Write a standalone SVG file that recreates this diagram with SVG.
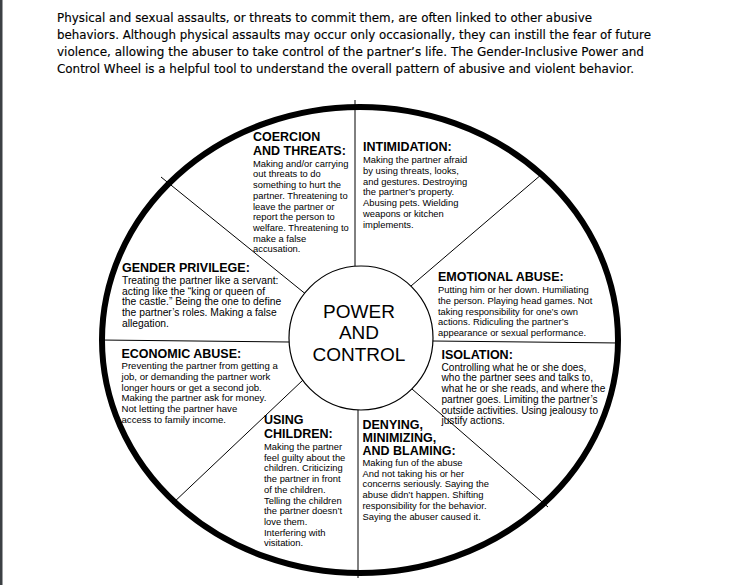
<svg xmlns="http://www.w3.org/2000/svg" width="735" height="585" viewBox="0 0 735 585">
<style>
.intro{font-family:"DejaVu Sans","Liberation Sans",sans-serif;font-size:12.5px;fill:#000;stroke:#000;stroke-width:0.15}
.t{font-family:"Liberation Sans",Arial,sans-serif;font-weight:bold;font-size:12.5px;fill:#000}
.b{font-family:"Liberation Sans",Arial,sans-serif;font-size:9.4px;fill:#000}
.bl{font-family:"Liberation Sans",Arial,sans-serif;font-size:10.3px;fill:#000}
.bi{font-family:"Liberation Sans",Arial,sans-serif;font-size:10.1px;fill:#000}
.be{font-family:"Liberation Sans",Arial,sans-serif;font-size:9.6px;fill:#000}
.c{font-family:"Liberation Sans",Arial,sans-serif;font-size:19px;fill:#000;text-anchor:middle}
.div{stroke:#000;stroke-width:1;fill:none}
</style>
<rect x="0" y="0" width="735" height="585" fill="#fff"/>
<rect x="0" y="0" width="2.5" height="585" fill="#3c4044"/>
<g id="intro">
<text class="intro" x="57" y="22" textLength="535" lengthAdjust="spacingAndGlyphs">Physical and sexual assaults, or threats to commit them, are often linked to other abusive</text>
<text class="intro" x="57" y="39" textLength="594" lengthAdjust="spacingAndGlyphs">behaviors. Although physical assaults may occur only occasionally, they can instill the fear of future</text>
<text class="intro" x="57" y="56" textLength="587" lengthAdjust="spacingAndGlyphs">violence, allowing the abuser to take control of the partner’s life. The Gender-Inclusive Power and</text>
<text class="intro" x="57" y="73" textLength="577" lengthAdjust="spacingAndGlyphs">Control Wheel is a helpful tool to understand the overall pattern of abusive and violent behavior.</text>
</g>
<g id="connectors">
<line class="div" x1="355" y1="100" x2="355" y2="266"/>
<line class="div" x1="358" y1="410" x2="358" y2="578"/>
<line class="div" x1="161" y1="177" x2="305" y2="293.5"/>
<line class="div" x1="542" y1="174" x2="411" y2="286"/>
<line class="div" x1="100" y1="340" x2="289" y2="342"/>
<line class="div" x1="433" y1="341" x2="620" y2="343"/>
<line class="div" x1="172" y1="504" x2="303" y2="380"/>
<line class="div" x1="412" y1="389" x2="548" y2="507"/>
</g>
<g id="wheel-rim">
<ellipse cx="360" cy="340" rx="258" ry="233" fill="none" stroke="#000" stroke-width="6"/>
</g>
<g id="center">
<circle cx="361" cy="338" r="72" fill="#fff" stroke="#000" stroke-width="1.2"/>
<text class="c" x="359" y="318">POWER</text>
<text class="c" x="359" y="339">AND</text>
<text class="c" x="359" y="361">CONTROL</text>
</g>
<g id="coercion">
<text class="t" x="253" y="141">COERCION</text>
<text class="t" x="253" y="155">AND THREATS:</text>
<text class="b" x="253" y="166.7">Making and/or carrying</text>
<text class="b" x="253" y="177.4">out threats to do</text>
<text class="b" x="253" y="188.1">something to hurt the</text>
<text class="b" x="253" y="198.8">partner. Threatening to</text>
<text class="b" x="253" y="209.5">leave the partner or</text>
<text class="b" x="253" y="220.2">report the person to</text>
<text class="b" x="253" y="230.9">welfare. Threatening to</text>
<text class="b" x="253" y="241.6">make a false</text>
<text class="b" x="253" y="252.3">accusation.</text>
</g>
<g id="intimidation">
<text class="t" x="363" y="151">INTIMIDATION:</text>
<text class="b" x="363" y="163.3">Making the partner afraid</text>
<text class="b" x="363" y="174">by using threats, looks,</text>
<text class="b" x="363" y="184.7">and gestures. Destroying</text>
<text class="b" x="363" y="195.4">the partner’s property.</text>
<text class="b" x="363" y="206.1">Abusing pets. Wielding</text>
<text class="b" x="363" y="216.8">weapons or kitchen</text>
<text class="b" x="363" y="227.5">implements.</text>
</g>
<g id="gender-privilege">
<text class="t" x="122" y="272">GENDER PRIVILEGE:</text>
<text class="bl" x="122" y="284">Treating the partner like a servant:</text>
<text class="bl" x="122" y="294.7">acting like the “king or queen of</text>
<text class="bl" x="122" y="305.4">the castle.” Being the one to define</text>
<text class="bl" x="122" y="316.1">the partner’s roles. Making a false</text>
<text class="bl" x="122" y="326.8">allegation.</text>
</g>
<g id="emotional-abuse">
<text class="t" x="438" y="281">EMOTIONAL ABUSE:</text>
<text class="b" x="438" y="293.3">Putting him or her down. Humiliating</text>
<text class="b" x="438" y="304">the person. Playing head games. Not</text>
<text class="b" x="438" y="314.7">taking responsibility for one’s own</text>
<text class="b" x="438" y="325.4">actions. Ridiculing the partner’s</text>
<text class="b" x="438" y="336.1">appearance or sexual performance.</text>
</g>
<g id="economic-abuse">
<text class="t" x="121.5" y="357.5">ECONOMIC ABUSE:</text>
<text class="be" x="121.5" y="369.3">Preventing the partner from getting a</text>
<text class="be" x="121.5" y="380">job, or demanding the partner work</text>
<text class="be" x="121.5" y="390.7">longer hours or get a second job.</text>
<text class="be" x="121.5" y="401.4">Making the partner ask for money.</text>
<text class="be" x="121.5" y="412.1">Not letting the partner have</text>
<text class="be" x="121.5" y="422.8">access to family income.</text>
</g>
<g id="isolation">
<text class="t" x="441.5" y="358.5">ISOLATION:</text>
<text class="bi" x="441.5" y="370.7">Controlling what he or she does,</text>
<text class="bi" x="441.5" y="381.4">who the partner sees and talks to,</text>
<text class="bi" x="441.5" y="392.1">what he or she reads, and where the</text>
<text class="bi" x="441.5" y="402.8">partner goes. Limiting the partner’s</text>
<text class="bi" x="441.5" y="413.5">outside activities. Using jealousy to</text>
<text class="bi" x="441.5" y="424.2">justify actions.</text>
</g>
<g id="using-children">
<text class="t" x="264" y="423.5">USING</text>
<text class="t" x="264" y="438.3">CHILDREN:</text>
<text class="b" x="264" y="450">Making the partner</text>
<text class="b" x="264" y="460.7">feel guilty about the</text>
<text class="b" x="264" y="471.4">children. Criticizing</text>
<text class="b" x="264" y="482.1">the partner in front</text>
<text class="b" x="264" y="492.8">of the children.</text>
<text class="b" x="264" y="503.5">Telling the children</text>
<text class="b" x="264" y="514.2">the partner doesn’t</text>
<text class="b" x="264" y="524.9">love them.</text>
<text class="b" x="264" y="535.6">Interfering with</text>
<text class="b" x="264" y="546.3">visitation.</text>
</g>
<g id="denying">
<text class="t" x="362.5" y="428.5">DENYING,</text>
<text class="t" x="362.5" y="441.8">MINIMIZING,</text>
<text class="t" x="362.5" y="455">AND BLAMING:</text>
<text class="b" x="362.5" y="466">Making fun of the abuse</text>
<text class="b" x="362.5" y="476.7">And not taking his or her</text>
<text class="b" x="362.5" y="487.4">concerns seriously. Saying the</text>
<text class="b" x="362.5" y="498.1">abuse didn’t happen. Shifting</text>
<text class="b" x="362.5" y="508.8">responsibility for the behavior.</text>
<text class="b" x="362.5" y="519.5">Saying the abuser caused it.</text>
</g>
</svg>
